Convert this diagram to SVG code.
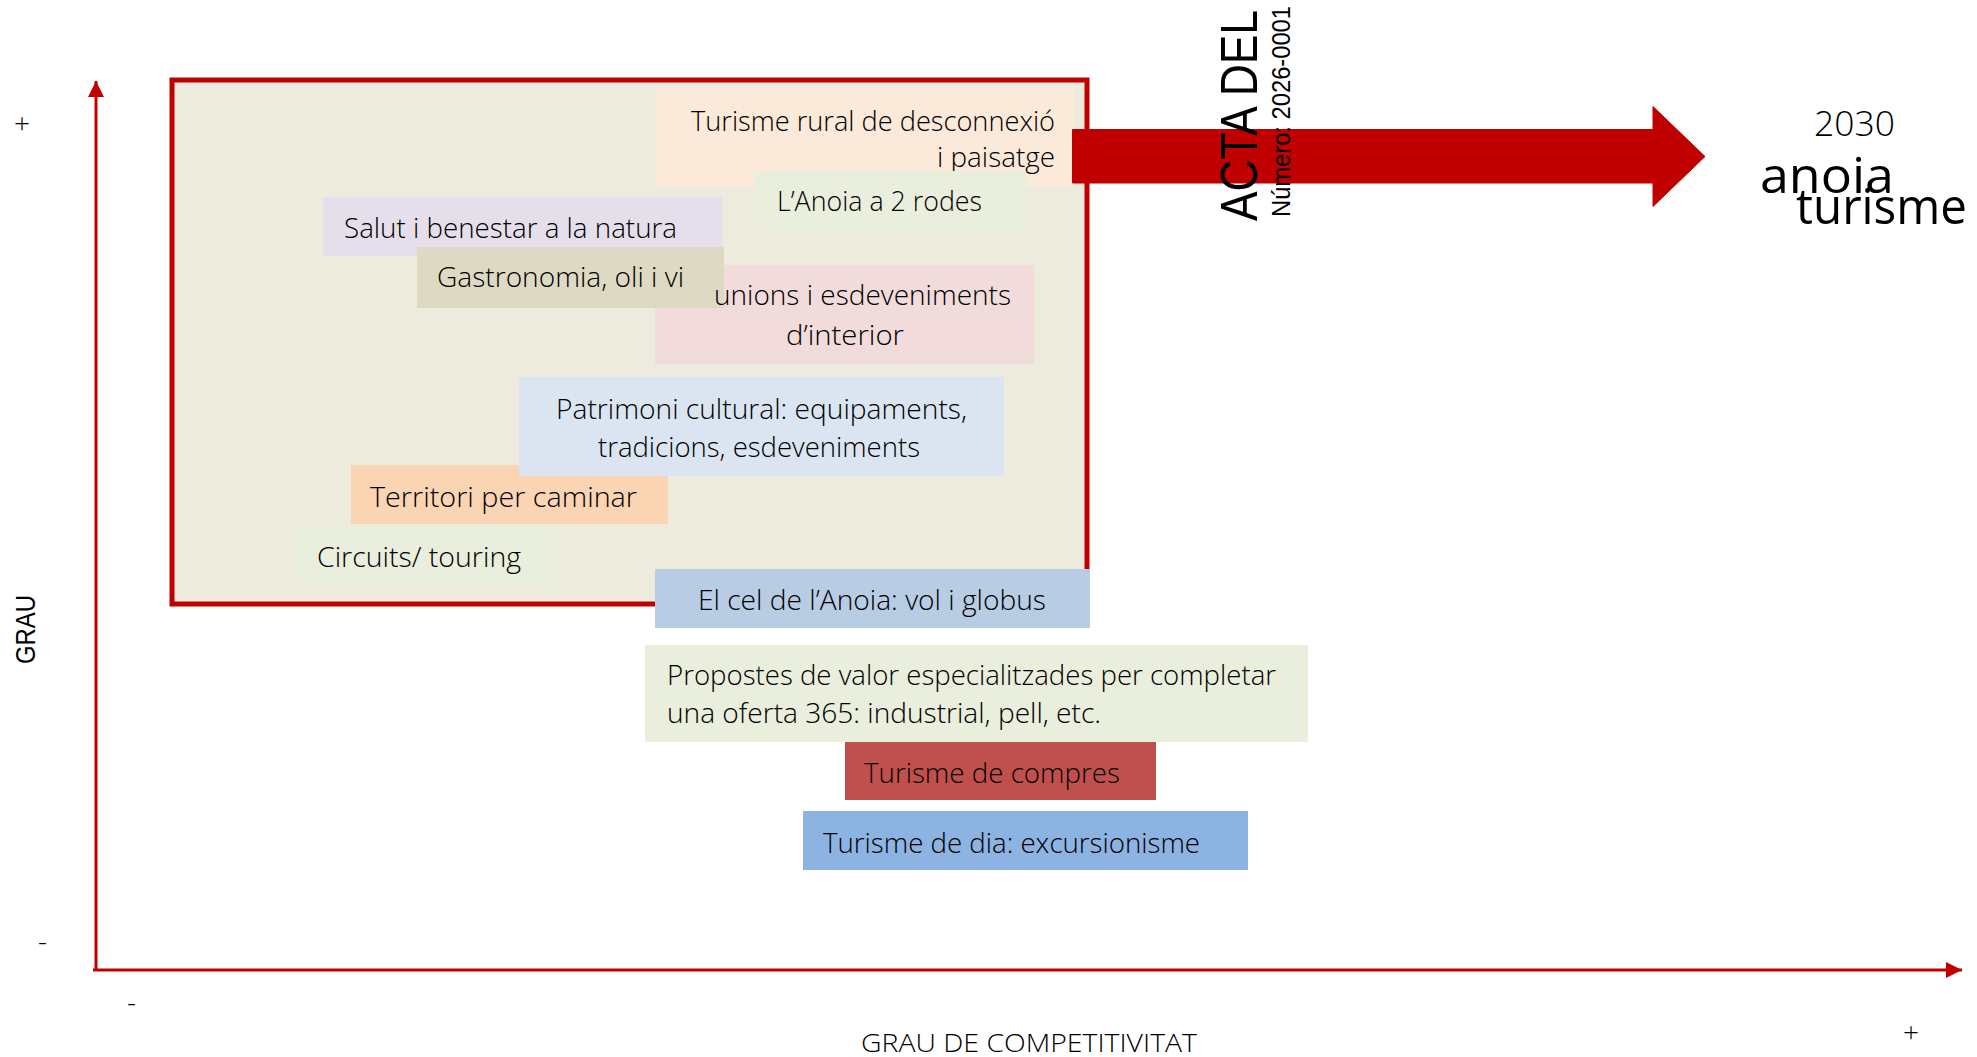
<svg xmlns="http://www.w3.org/2000/svg" width="1977" height="1057" viewBox="0 0 1977 1057">
<style>
text{font-family:"Open Sans","Liberation Sans",sans-serif;font-weight:300;font-size:27px;fill:#000}
.w{font-family:"Liberation Sans",sans-serif;font-weight:400}
.b{stroke:none}
</style>
<defs>
<marker id="ah" markerUnits="userSpaceOnUse" markerWidth="16" markerHeight="16" refX="16" refY="8" orient="auto"><path d="M0 0L16 8L0 16Z" fill="#C00000"/></marker>
</defs>
<rect width="1977" height="1057" fill="#fff"/>
<g id="connectors" fill="none" stroke="#C00000" stroke-width="3">
<path d="M96 970V81" marker-end="url(#ah)"/>
<path d="M93 970H1962" marker-end="url(#ah)"/>
</g>
<g id="frame"><rect x="172" y="80" width="915" height="524" fill="#EDEADE" stroke="#C00000" stroke-width="5"/></g>
<g id="rural"><rect class="b" x="655" y="89" width="419" height="97" fill="#FBE9DA"/>
<text x="691" y="131" textLength="364" lengthAdjust="spacingAndGlyphs">Turisme rural de desconnexió</text>
<text x="937" y="167" textLength="118" lengthAdjust="spacingAndGlyphs">i paisatge</text></g>
<g id="rodes"><rect class="b" x="755" y="171" width="271" height="59" fill="#EAEEDD"/>
<text x="777" y="211" textLength="205" lengthAdjust="spacingAndGlyphs">L’Anoia a 2 rodes</text></g>
<g id="reunions"><rect class="b" x="655" y="265" width="379" height="99" fill="#F2DBDB"/>
<text x="786" y="345" textLength="118" lengthAdjust="spacingAndGlyphs">d’interior</text></g>
<g id="salut"><rect class="b" x="323" y="197" width="399" height="59" fill="#E5DFEC"/>
<text x="344" y="238" textLength="333" lengthAdjust="spacingAndGlyphs">Salut i benestar a la natura</text></g>
<g id="gastronomia"><rect class="b" x="417" y="247" width="307" height="61" fill="#DDD9C3"/>
<text x="437" y="287" textLength="247" lengthAdjust="spacingAndGlyphs">Gastronomia, oli i vi</text></g>
<g id="reunions-label"><text x="714" y="305" textLength="297" lengthAdjust="spacingAndGlyphs">unions i esdeveniments</text></g>
<g id="territori"><rect class="b" x="351" y="465" width="317" height="59" fill="#FBD4B4"/>
<text x="370" y="507" textLength="267" lengthAdjust="spacingAndGlyphs">Territori per caminar</text></g>
<g id="patrimoni"><rect class="b" x="519" y="377" width="485" height="99" fill="#DBE5F1"/>
<text x="556" y="419" textLength="411" lengthAdjust="spacingAndGlyphs">Patrimoni cultural: equipaments,</text>
<text x="598" y="457" textLength="322" lengthAdjust="spacingAndGlyphs">tradicions, esdeveniments</text></g>
<g id="circuits"><rect class="b" x="297" y="527" width="259" height="59" fill="#EAEEDD"/>
<text x="317" y="567" textLength="204" lengthAdjust="spacingAndGlyphs">Circuits/ touring</text></g>
<g id="cel"><rect class="b" x="655" y="569" width="435" height="59" fill="#B8CCE4"/>
<text x="698" y="610" textLength="348" lengthAdjust="spacingAndGlyphs">El cel de l’Anoia: vol i globus</text></g>
<g id="propostes"><rect class="b" x="645" y="645" width="663" height="97" fill="#EAEEDD"/>
<text x="667" y="685" textLength="609" lengthAdjust="spacingAndGlyphs">Propostes de valor especialitzades per completar</text>
<text x="667" y="723" textLength="434" lengthAdjust="spacingAndGlyphs">una oferta 365: industrial, pell, etc.</text></g>
<g id="compres"><rect class="b" x="845" y="742" width="311" height="58" fill="#C0504D"/>
<text x="864" y="783" textLength="256" lengthAdjust="spacingAndGlyphs">Turisme de compres</text></g>
<g id="dia"><rect class="b" x="803" y="811" width="445" height="59" fill="#8DB3E2"/>
<text x="823" y="853" textLength="377" lengthAdjust="spacingAndGlyphs">Turisme de dia: excursionisme</text></g>
<g id="arrow2030"><path d="M1072.500 129.500H1653V106.500L1705 156.500L1653 206.500V183H1072.500Z" fill="#C00000" stroke="#C00000" stroke-width="1" stroke-linejoin="round"/></g>
<g id="acta">
<text class="w" transform="translate(1257 221) rotate(-90)" style="font-size:52px" textLength="211" lengthAdjust="spacingAndGlyphs">ACTA DEL</text>
<text class="w" transform="translate(1290 217) rotate(-90)" style="font-size:26px" textLength="211" lengthAdjust="spacingAndGlyphs">Número: 2026-0001</text>
</g>
<g id="logo">
<text x="1814" y="136" style="font-size:34px" textLength="81" lengthAdjust="spacingAndGlyphs">2030</text>
<text x="1760" y="193" style="font-size:50px;font-weight:500" textLength="134" lengthAdjust="spacingAndGlyphs">anoia</text>
<text x="1796" y="224" style="font-size:50px;font-weight:500" textLength="171" lengthAdjust="spacingAndGlyphs">turisme</text>
</g>
<g id="axis-labels">
<text x="14" y="133" style="font-size:28px">+</text>
<text x="38" y="951" style="font-size:28px">-</text>
<text x="127" y="1012" style="font-size:28px">-</text>
<text x="1903" y="1042" style="font-size:28px">+</text>
<text x="861" y="1052" textLength="336" lengthAdjust="spacingAndGlyphs" style="font-size:26px">GRAU DE COMPETITIVITAT</text>
<text class="w" transform="translate(35 664) rotate(-90)" style="font-size:27px" textLength="69" lengthAdjust="spacingAndGlyphs">GRAU</text>
</g>
</svg>
